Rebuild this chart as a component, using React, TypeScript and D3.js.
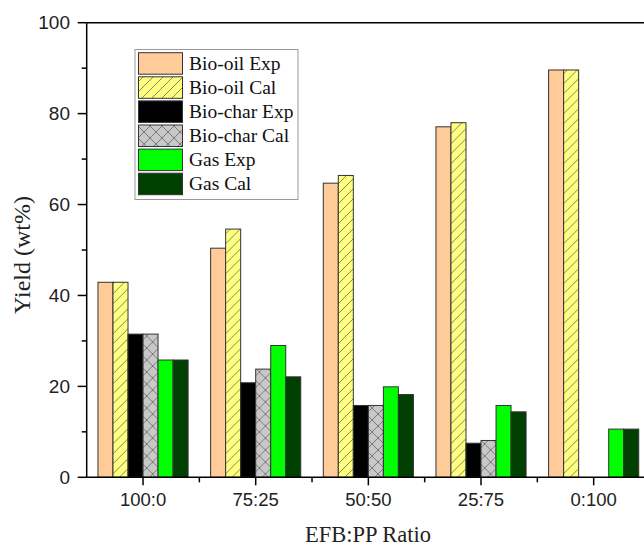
import React from "react";
import * as d3 from "d3";

const categories = ["100:0", "75:25", "50:50", "25:75", "0:100"];
const seriesNames = ["Bio-oil Exp", "Bio-oil Cal", "Bio-char Exp", "Bio-char Cal", "Gas Exp", "Gas Cal"];
const bioOilExp = [42.9, 50.4, 64.7, 77.1, 89.6];
const bioOilCal = [42.9, 54.6, 66.4, 78.0, 89.6];
const bioCharExp = [31.5, 20.8, 15.8, 7.5, 0];
const bioCharCal = [31.5, 23.8, 15.8, 8.1, 0];
const gasExp = [25.8, 29.0, 19.9, 15.8, 10.6];
const gasCal = [25.8, 22.1, 18.2, 14.4, 10.6];
const yMajorTicks = [0, 20, 40, 60, 80, 100];
const yMinorTicks = [10, 30, 50, 70, 90];

const seriesValues = [bioOilExp, bioOilCal, bioCharExp, bioCharCal, gasExp, gasCal];
const fills = ["#FFCC99", "url(#hatchDiag)", "#000000", "url(#hatchCross)", "#00FF00", "#004000"];

const W = 644, H = 546;
const left = 86.7, right = 650, top = 22.7, bottom = 477.3;

export default function App() {
  const x0 = d3.scaleBand<string>().domain(categories).range([left, right]).paddingInner(0).paddingOuter(0);
  const x1 = d3.scaleBand<string>().domain(seriesNames).range([0, x0.bandwidth()]).paddingInner(0).paddingOuter(0.75);
  const y = d3.scaleLinear().domain([0, 100]).range([bottom, top]);

  const serif = "'Liberation Serif', 'Times New Roman', serif";
  const sans = "'Liberation Sans', Arial, sans-serif";

  const minorX = categories.map((c) => (x0(c) as number) + x0.bandwidth());

  return (
    <svg width={W} height={H} style={{ position: "absolute", left: 0, top: 0, background: "#fff" }}>
      <defs>
        <pattern id="hatchDiag" patternUnits="userSpaceOnUse" width="10" height="10">
          <rect width="10" height="10" fill="#FFFF80" />
          <path d="M0,10 L10,0 M-2,2 L2,-2 M8,12 L12,8" stroke="#666" strokeWidth="0.8" />
        </pattern>
        <pattern id="hatchCross" patternUnits="userSpaceOnUse" width="12" height="12">
          <rect width="12" height="12" fill="#C8C8C8" />
          <path d="M0,12 L12,0 M-2,2 L2,-2 M10,14 L14,10 M0,0 L12,12 M-2,10 L2,14 M10,-2 L14,2" stroke="#666" strokeWidth="0.8" />
        </pattern>
      </defs>
      <rect width={W} height={H} fill="#fff" />

      {categories.map((c, i) => (
        <g key={c} transform={`translate(${x0(c)},0)`}>
          {seriesNames.map((s, j) => {
            const v = seriesValues[j][i];
            if (!v) return null;
            return (
              <rect
                key={s}
                x={x1(s)}
                y={y(v)}
                width={x1.bandwidth()}
                height={bottom - y(v)}
                fill={fills[j]}
                stroke="#333"
                strokeWidth={1}
              />
            );
          })}
        </g>
      ))}

      <line x1={left} x2={right} y1={top} y2={top} stroke="#000" strokeWidth={1.5} />
      <line x1={left} x2={left} y1={top} y2={bottom} stroke="#000" strokeWidth={1.5} />
      <line x1={left - 1} x2={right} y1={bottom} y2={bottom} stroke="#000" strokeWidth={1.5} />

      {yMajorTicks.map((t) => (
        <g key={t}>
          <line x1={left - 9} x2={left} y1={y(t)} y2={y(t)} stroke="#000" strokeWidth={1.5} />
          <text x={70} y={y(t)} dy="0.35em" textAnchor="end" fontFamily={sans} fontSize={19} fill="#222">{t}</text>
        </g>
      ))}
      {yMinorTicks.map((t) => (
        <line key={t} x1={left - 5} x2={left} y1={y(t)} y2={y(t)} stroke="#000" strokeWidth={1.5} />
      ))}

      {categories.map((c) => {
        const cx = (x0(c) as number) + x0.bandwidth() / 2;
        return (
          <g key={c}>
            <line x1={cx} x2={cx} y1={bottom} y2={bottom + 8} stroke="#000" strokeWidth={1.5} />
            <text x={cx} y={506} textAnchor="middle" fontFamily={sans} fontSize={18.5} fill="#222">{c}</text>
          </g>
        );
      })}
      {minorX.map((mx, i) => (
        <line key={i} x1={mx} x2={mx} y1={bottom} y2={bottom + 5} stroke="#000" strokeWidth={1.5} />
      ))}

      <text x={368} y={542} textAnchor="middle" fontFamily={serif} fontSize={22.5} fill="#222">EFB:PP Ratio</text>
      <text transform="translate(30,255) rotate(-90)" textAnchor="middle" fontFamily={serif} fontSize={24} fill="#222">Yield (wt%)</text>

      <rect x={135} y={49.5} width={163} height={150} fill="#fff" stroke="#999" strokeWidth={1} />
      {seriesNames.map((s, j) => {
        const ry = 52.7 + j * 24.1;
        return (
          <g key={s}>
            <rect x={138.5} y={ry} width={44} height={21.5} fill={fills[j]} stroke="#333" strokeWidth={1} />
            <text x={189} y={ry + 17} fontFamily={serif} fontSize={19.5} fill="#111">{s}</text>
          </g>
        );
      })}
    </svg>
  );
}
